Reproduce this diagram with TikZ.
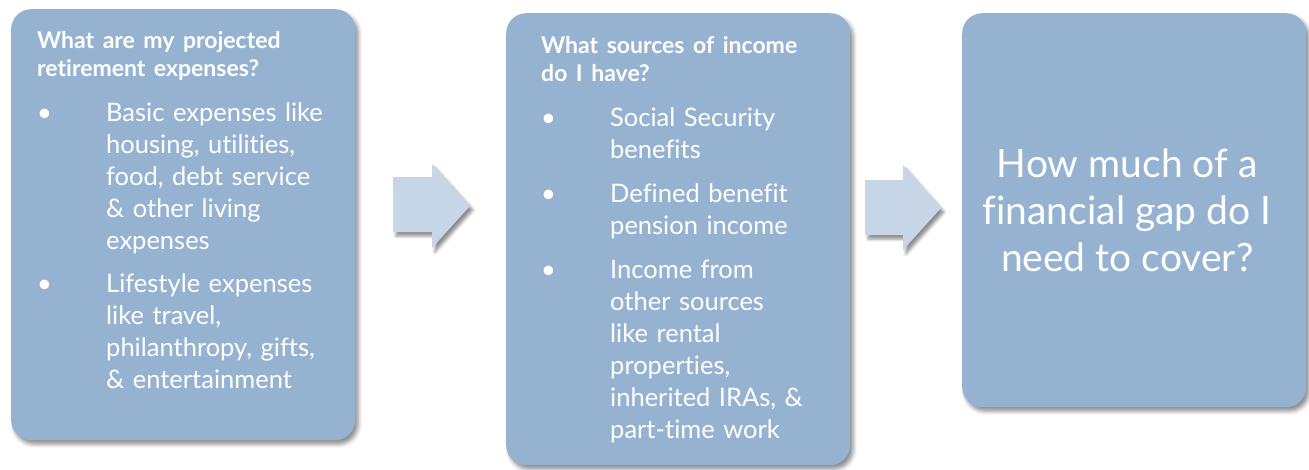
\documentclass[tikz,border=0pt]{standalone}
\usepackage{fontspec}
\setmainfont{Lato}[Ligatures=NoCommon]
\usetikzlibrary{positioning, shadows.blur}
\definecolor{boxblue}{HTML}{95B3D1}
\definecolor{arrowblue}{HTML}{C6D6E6}
\tikzstyle{panel} = [rectangle, rounded corners=20pt, fill=boxblue, inner sep=0pt, anchor=north west, blur shadow={shadow xshift=3pt, shadow yshift=-4pt, shadow blur radius=4pt, shadow opacity=45}]
\tikzstyle{paneltext} = [inner sep=0pt, text=white, align=left, text width=310pt, font=\fontsize{25.5}{32}\selectfont]
\tikzstyle{bigtext} = [inner sep=0pt, text=white, align=center, font=\fontsize{39}{47}\selectfont]
\tikzstyle{flow} = [fill=arrowblue, blur shadow={shadow xshift=3pt, shadow yshift=-4pt, shadow blur radius=3pt, shadow opacity=45}]
\newcommand{\heading}[1]{{\fontsize{23}{28}\selectfont\bfseries #1\par}\vspace{13pt}}
\newcommand{\bitem}[1]{\hangindent=69pt\hangafter=1\noindent\makebox[69pt][l]{\textbullet}#1\par}

\begin{document}
\begin{tikzpicture}[x=1pt, y=-1pt]
        \useasboundingbox (0,0) rectangle (1309,469);
        % panels
        \node[panel, minimum width=344pt, minimum height=431pt] (expenses) at (11,9) {};
        \node[panel, minimum width=344pt, minimum height=452pt] (income) at (506,13) {};
        \node[panel, minimum width=344pt, minimum height=394pt] (gap) at (962,13) {};

        \node[paneltext, below right=22pt and 26pt of expenses.north west] (expensestext) {%
            \heading{What are my projected\\retirement expenses?}
            \bitem{Basic expenses like\newline housing, utilities,\newline food, debt service\newline \& other living\newline expenses}
            \vspace{11pt}
            \bitem{Lifestyle expenses\newline like travel,\newline philanthropy, gifts,\newline \& entertainment}};
        \node[paneltext, below right=23pt and 35pt of income.north west] (incometext) {%
            \heading{What sources of income\\do I have?}
            \bitem{Social Security\newline benefits}
            \vspace{12pt}
            \bitem{Defined benefit\newline pension income}
            \vspace{12pt}
            \bitem{Income from\newline other sources\newline like rental\newline properties,\newline inherited IRAs, \&\newline part-time work}};
        \node[bigtext, xshift=-7pt] (gaptext) at (gap.center) {How much of a\\financial gap do I\\need to cover?};

        % block arrows
        \coordinate (flow1) at (393,177);
        \coordinate (flow2) at (865,180);
        \fill[flow] (flow1) -- ++(39,0) -- ++(0,-13) -- ++(38,42) -- ++(-38,42) -- ++(0,-16) -- ++(-39,0) -- cycle;
        \fill[flow] (flow2) -- ++(38,0) -- ++(0,-15) -- ++(38,43) -- ++(-38,42) -- ++(0,-15) -- ++(-38,0) -- cycle;
    \end{tikzpicture}
\end{document}
